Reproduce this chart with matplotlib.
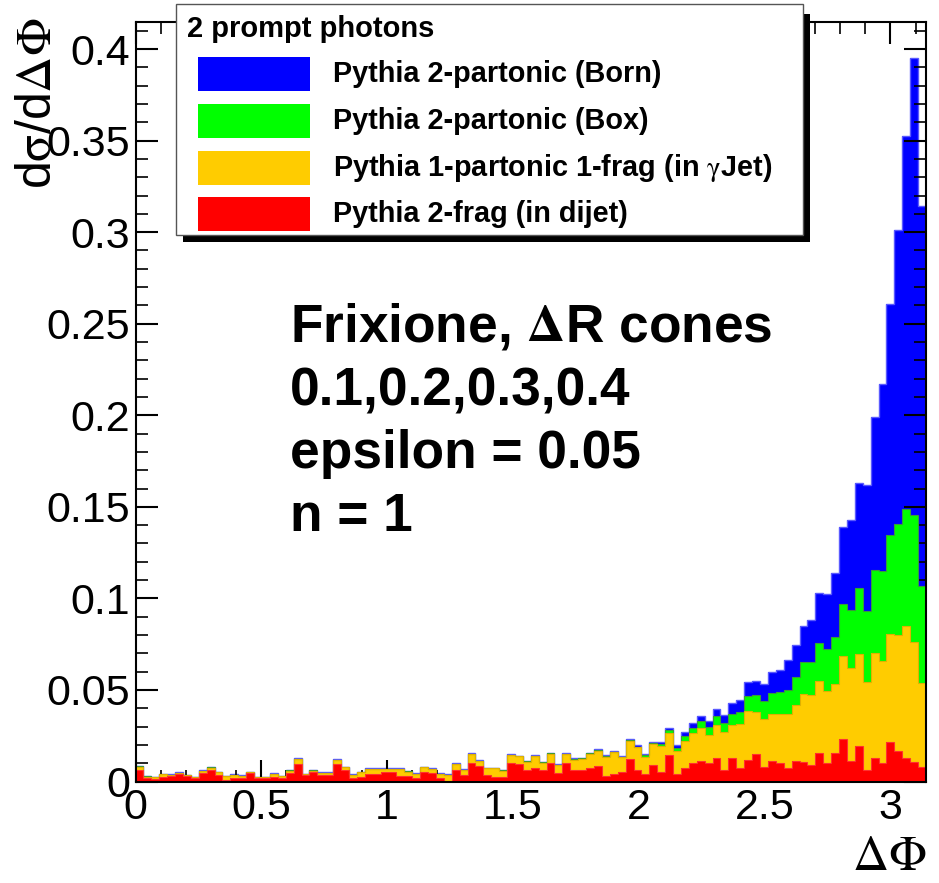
import numpy as np
import matplotlib
matplotlib.use("Agg")
import matplotlib.pyplot as plt
from matplotlib.patches import Rectangle
from matplotlib.ticker import MultipleLocator, FormatStrFormatter

plt.rcParams['font.family'] = ['Liberation Sans', 'DejaVu Sans']
plt.rcParams['mathtext.fontset'] = 'stix'

# Data: 100 bins of delta phi in [0, pi], per-component contributions
red = [0.0063, 0.0017, 0.0015, 0.0026, 0.0028, 0.0040, 0.0028, 0.0021, 0.0047, 0.0061,
       0.0036, 0.0008, 0.0021, 0.0021, 0.0048, 0.0017, 0.0017, 0.0026, 0.0021, 0.0044,
       0.0093, 0.0036, 0.0050, 0.0036, 0.0036, 0.0094, 0.0064, 0.0017, 0.0026, 0.0041,
       0.0041, 0.0054, 0.0054, 0.0032, 0.0032, 0.0017, 0.0054, 0.0044, 0.0021, 0.0004,
       0.0063, 0.0036, 0.0099, 0.0084, 0.0036, 0.0026, 0.0026, 0.0099, 0.0094, 0.0063,
       0.0072, 0.0063, 0.0099, 0.0045, 0.0099, 0.0063, 0.0063, 0.0072, 0.0082, 0.0032,
       0.0041, 0.0050, 0.0121, 0.0063, 0.0041, 0.0090, 0.0050, 0.0146, 0.0041, 0.0072,
       0.0099, 0.0112, 0.0099, 0.0128, 0.0063, 0.0130, 0.0074, 0.0117, 0.0148, 0.0081,
       0.0112, 0.0103, 0.0072, 0.0112, 0.0104, 0.0090, 0.0157, 0.0099, 0.0157, 0.0232,
       0.0112, 0.0193, 0.0063, 0.0126, 0.0099, 0.0213, 0.0166, 0.0126, 0.0104, 0.0081]
yellow = [0.0017, 0.0009, 0.0007, 0.0013, 0.0008, 0.0006, 0.0006, 0.0002, 0.0010, 0.0014,
          0.0014, 0.0020, 0.0015, 0.0009, 0.0002, 0.0005, 0.0005, 0.0015, 0.0007, 0.0016,
          0.0029, 0.0003, 0.0010, 0.0010, 0.0010, 0.0023, 0.0013, 0.0018, 0.0024, 0.0027,
          0.0027, 0.0014, 0.0014, 0.0036, 0.0021, 0.0023, 0.0023, 0.0024, 0.0019, 0.0031,
          0.0032, 0.0026, 0.0051, 0.0027, 0.0035, 0.0045, 0.0034, 0.0045, 0.0043, 0.0045,
          0.0065, 0.0038, 0.0051, 0.0043, 0.0049, 0.0056, 0.0060, 0.0078, 0.0086, 0.0103,
          0.0118, 0.0083, 0.0098, 0.0123, 0.0094, 0.0114, 0.0145, 0.0117, 0.0127, 0.0149,
          0.0164, 0.0181, 0.0154, 0.0180, 0.0209, 0.0178, 0.0239, 0.0267, 0.0229, 0.0263,
          0.0259, 0.0265, 0.0296, 0.0305, 0.0376, 0.0380, 0.0391, 0.0396, 0.0378, 0.0452,
          0.0508, 0.0505, 0.0481, 0.0578, 0.0559, 0.0591, 0.0632, 0.0721, 0.0658, 0.0458]
green = [0.0002] * 50 + [0.0003] * 12 + [
    0.0006, 0.0004, 0.0009, 0.0004, 0.0009, 0.0018, 0.0016, 0.0029,
    0.0030, 0.0037, 0.0046, 0.0049, 0.0049, 0.0063, 0.0068, 0.0084, 0.0094, 0.0097,
    0.0115, 0.0122, 0.0134, 0.0154, 0.0171, 0.0181, 0.0210, 0.0227, 0.0254, 0.0283,
    0.0318, 0.0358, 0.0387, 0.0449, 0.0491, 0.0541, 0.0609, 0.0642, 0.0696, 0.0528]
blue = [0.0002] * 50 + [0.0004] * 12 + [
    0.0005, 0.0009, 0.0007, 0.0006, 0.0010, 0.0009, 0.0015, 0.0018,
    0.0028, 0.0027, 0.0032, 0.0037, 0.0041, 0.0055, 0.0063, 0.0074, 0.0077, 0.0090,
    0.0111, 0.0121, 0.0160, 0.0177, 0.0196, 0.0229, 0.0273, 0.0303, 0.0351, 0.0425,
    0.0492, 0.0574, 0.0690, 0.0839, 0.1023, 0.1261, 0.1602, 0.2038, 0.2492, 0.2075]

labels = ['Pythia 2-partonic (Born)', 'Pythia 2-partonic (Box)',
          'Pythia 1-partonic 1-frag (in $\\mathrm{\\gamma}$Jet)', 'Pythia 2-frag (in dijet)']
colors = ['#0000ff', '#00ff00', '#ffcc00', '#ff0000']
lines = ['#5a5aff', '#3a9a3a', '#e0b000', '#ff3030']

W, H = 939, 883
fig = plt.figure(figsize=(W / 100, H / 100), dpi=100)
ax = fig.add_axes([135.5 / W, 1 - 781.5 / H, (926 - 135.5) / W, (781.5 - 22) / H])

edges = np.linspace(0, np.pi, len(red) + 1)
c_red = np.array(red)
c_yel = c_red + np.array(yellow)
c_grn = c_yel + np.array(green)
c_blu = c_grn + np.array(blue)

# THStack-like drawing: total first, axes over it, then the lower sums
ax.set_axisbelow(True)
ax.stairs(c_blu, edges, fill=True, color=colors[0], zorder=0.3)
ax.stairs(c_blu, edges, baseline=None, color=lines[0], lw=1, zorder=0.35)
for vals, fc, lc in [(c_grn, colors[1], lines[1]), (c_yel, colors[2], lines[2]),
                     (c_red, colors[3], lines[3])]:
    ax.stairs(vals, edges, fill=True, color=fc, zorder=1)
    ax.stairs(vals, edges, baseline=None, color=lc, lw=0.8, zorder=1.05)

ax.set_xlim(0, np.pi)
ax.set_ylim(0, 1.05 * c_blu.max())
ax.xaxis.set_major_locator(MultipleLocator(0.5))
ax.xaxis.set_minor_locator(MultipleLocator(0.1))
ax.yaxis.set_major_locator(MultipleLocator(0.05))
ax.yaxis.set_minor_locator(MultipleLocator(0.01))
ax.xaxis.set_major_formatter(FormatStrFormatter('%g'))
ax.yaxis.set_major_formatter(FormatStrFormatter('%g'))
ax.tick_params(which='both', direction='in', top=True, right=True, labelsize=31)
ax.tick_params(which='major', length=16, width=1.5)
ax.tick_params(which='minor', length=8.5, width=1.2)
ax.tick_params(axis='y', pad=4)
ax.tick_params(axis='x', pad=5)
for s in ax.spines.values():
    s.set_linewidth(1.5)

def fx(x):
    return x / W

def fy(y):
    return 1 - y / H

fig.text(fx(38), fy(18), r'd$\mathrm{\sigma}$/d$\mathrm{\Delta\Phi}$', rotation=90,
         ha='center', va='top', fontsize=36)
fig.text(fx(926), fy(880), r'$\mathrm{\Delta\Phi}$', ha='right', va='bottom', fontsize=36)

# annotation
notes = ['Frixione, $\\mathbf{\\Delta}$R cones', '0.1,0.2,0.3,0.4', 'epsilon = 0.05', 'n = 1']
for i, t in enumerate(notes):
    fig.text(fx(290), fy(342 + 63 * i), t, fontsize=38.3, fontweight='bold', va='baseline')

# legend box with shadow
fig.patches.append(Rectangle((fx(183), fy(242)), (810 - 183) / W, (242 - 14) / H,
                             transform=fig.transFigure, facecolor='black', edgecolor='none',
                             zorder=5))
fig.patches.append(Rectangle((fx(176), fy(235)), (803 - 176) / W, (235 - 4) / H,
                             transform=fig.transFigure, facecolor='white', edgecolor='#555555',
                             lw=1, zorder=6))
fig.text(fx(187), fy(37), '2 prompt photons', fontsize=21, fontweight='bold',
         va='baseline', zorder=7)
tops = [57, 104, 151, 197]
for t, lab, c in zip(tops, labels, colors):
    fig.patches.append(Rectangle((fx(198), fy(t + 34)), 112 / W, 34 / H,
                                 transform=fig.transFigure, facecolor=c, edgecolor='none',
                                 zorder=7))
    fig.text(fx(333), fy(t + 17), lab, fontsize=20.8, fontweight='bold', va='center', zorder=7)

fig.savefig('out.png', dpi=100)
